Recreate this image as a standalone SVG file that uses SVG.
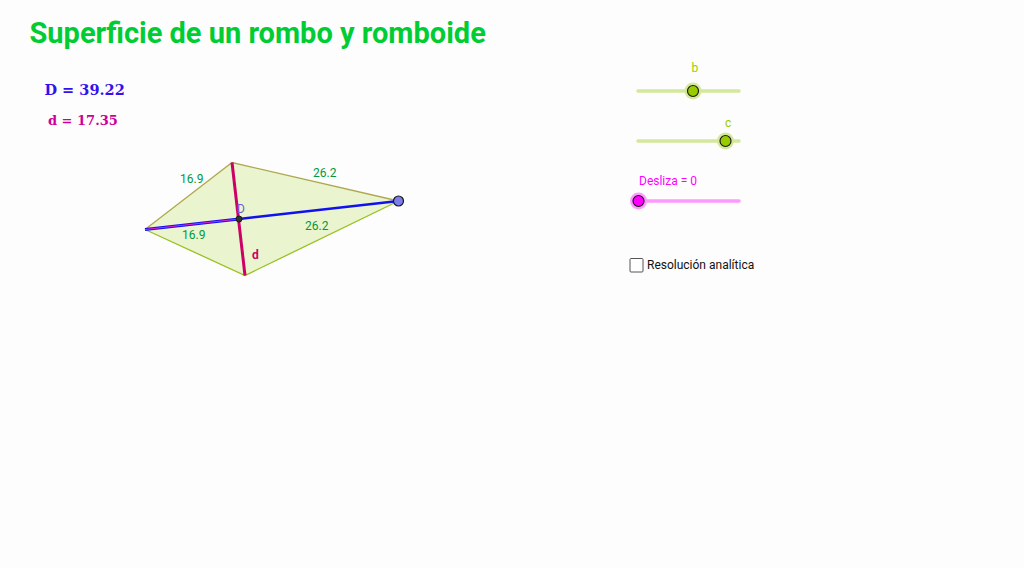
<svg xmlns="http://www.w3.org/2000/svg" width="1024" height="568" viewBox="0 0 1024 568">
<style>
text{font-family:Roboto,"Liberation Sans",sans-serif}
.len{font-size:12px;fill:#009a3c}
.track{stroke-width:3.5;stroke-linecap:round;fill:none}
.knob{stroke:#1a1a1a;stroke-width:1.2}
.math{font-family:"DejaVu Serif","Liberation Serif",serif;font-weight:bold}
</style>
<rect width="1024" height="568" fill="#fdfdfd"/>
<text id="title" x="29.500" y="43" font-size="29" font-weight="700" fill="#00cc33">Superficie de un rombo y romboide</text>
<text id="formula-D" class="math" x="44.500" y="95" font-size="14.500" fill="#3311ee">D = 39.22</text>
<text id="formula-d" class="math" x="48" y="125" font-size="13" fill="#cc0099">d = 17.35</text>
<g id="kite">
<polygon points="145,229.500 232,162.500 398.500,201 245,275.500" fill="#eaf4cf"/>
</g>
<g id="connectors">
<path d="M145,229.500 232,162.500 398.500,201" fill="none" stroke="#b0a850" stroke-width="1.300"/>
<path d="M145,229.500 245,275.500 398.500,201" fill="none" stroke="#99c020" stroke-width="1.300"/>
<path d="M232,162.500 245,275.500" fill="none" stroke="#cc0066" stroke-width="3"/>
<path d="M145,229.500 239,219" fill="none" stroke="#1111ee" stroke-width="3"/>
<path d="M145,229.500 239,219" fill="none" stroke="#e020e0" stroke-width="1"/>
<path d="M239,219 398.500,201" fill="none" stroke="#1111ee" stroke-width="2.500"/>
</g>
<g id="point-right"><circle cx="398.500" cy="201" r="5" fill="#7d7dee" stroke="#1a1a1a" stroke-width="1.200"/></g>
<g id="point-center"><circle cx="239" cy="219" r="3" fill="#333" stroke="#1a1a1a"/></g>
<g id="labels">
<text class="len" x="180" y="183">16.9</text>
<text class="len" x="313" y="177">26.2</text>
<text class="len" x="182" y="239">16.9</text>
<text class="len" x="305" y="230">26.2</text>
<text x="237" y="213" font-size="12" fill="#6a5ae8">D</text>
<text x="252" y="259" font-size="12" font-weight="700" fill="#cc0066">d</text>
</g>
<g id="slider-b">
<path class="track" d="M638,91H739" stroke="#d3e89b"/>
<circle cx="693" cy="91" r="8.500" fill="#d3e89b"/>
<circle class="knob" cx="693" cy="91" r="5.500" fill="#99cc00"/>
<text x="691.500" y="72" font-size="12" fill="#99cc00">b</text>
</g>
<g id="slider-c">
<path class="track" d="M638,141H739" stroke="#d3e89b"/>
<circle cx="725.500" cy="141" r="8.500" fill="#d3e89b"/>
<circle class="knob" cx="725.500" cy="141" r="5.500" fill="#99cc00"/>
<text x="725" y="127" font-size="12" fill="#99cc00">c</text>
</g>
<g id="slider-desliza">
<path class="track" d="M640,201H739" stroke="#ff99ff"/>
<circle cx="638.500" cy="201" r="8.500" fill="#ff99ff"/>
<circle class="knob" cx="638.500" cy="201" r="5.500" fill="#ff00ff"/>
<text x="639" y="185" font-size="12" fill="#ff00ff">Desliza = 0</text>
</g>
<g id="checkbox">
<rect x="630" y="258.500" width="13" height="13.500" rx="1" fill="#fff" stroke="#555" stroke-width="1"/>
<text x="647" y="269" font-size="12" fill="#111">Resolución analítica</text>
</g>
</svg>
